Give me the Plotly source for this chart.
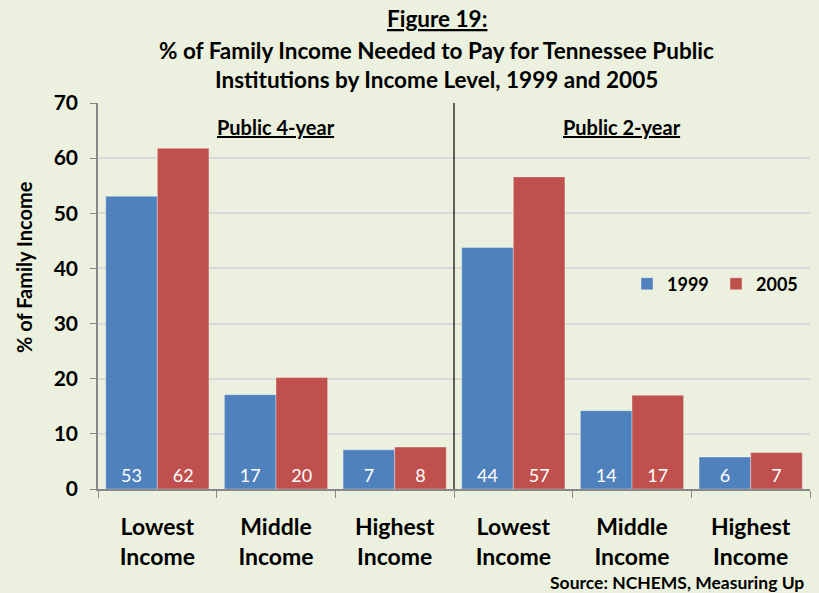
import plotly.graph_objects as go

categories = ["4y_low", "4y_mid", "4y_high", "2y_low", "2y_mid", "2y_high"]
tick_labels = ["Lowest<br>Income", "Middle<br>Income", "Highest<br>Income",
               "Lowest<br>Income", "Middle<br>Income", "Highest<br>Income"]
values_1999 = [53.1, 17.1, 7.1, 43.8, 14.2, 5.8]
values_2005 = [61.8, 20.2, 7.6, 56.6, 17.0, 6.6]
series_names = ["1999", "2005"]
section_labels = ["Public 4-year", "Public 2-year"]

BG = "#EBF1DE"
FONT = "Lato"

fig = go.Figure()
for name, vals, col in [(series_names[0], values_1999, "#4F81BD"),
                        (series_names[1], values_2005, "#C0504D")]:
    fig.add_trace(go.Bar(
        x=categories, y=vals, name=name,
        marker=dict(color=col, line=dict(color="rgba(255,255,255,0.35)", width=1)),
        text=[f"{round(v + 1e-9):d}" for v in vals],
        textposition="inside", insidetextanchor="start",
        textfont=dict(family=FONT, size=18, color="white"),
        textangle=0,
    ))

fig.update_layout(
    width=819, height=593,
    paper_bgcolor=BG, plot_bgcolor=BG,
    margin=dict(l=98, r=9, t=103, b=104),
    barmode="group", bargap=0.13, bargroupgap=0,
    font=dict(family=FONT, color="black"),
    showlegend=True,
    legend=dict(orientation="h", x=0.743, y=0.531, xanchor="left", yanchor="middle",
                bgcolor="rgba(0,0,0,0)", itemwidth=30, entrywidth=44,
                font=dict(family=FONT, size=18, color="black", weight="bold")),
)

fig.update_xaxes(
    type="category", tickmode="array", tickvals=categories, ticktext=tick_labels,
    tickson="boundaries", ticks="outside", ticklen=7, tickcolor="#888888",
    showline=True, linecolor="#888888", linewidth=1.5,
    tickfont=dict(family=FONT, size=23, weight="bold", color="black"),
    ticklabelstandoff=17,
    showgrid=False, range=[-0.5, 5.5],
)
fig.update_yaxes(
    range=[0, 70], dtick=10, tick0=0,
    ticks="outside", ticklen=6, tickcolor="#888888",
    showline=True, linecolor="#888888", linewidth=1.5,
    gridcolor="#D9D9D9", gridwidth=1.5,
    tickfont=dict(family=FONT, size=21, weight="bold", color="black"),
    ticklabelstandoff=8, zeroline=False,
)

# divider between the two institution types
fig.add_shape(type="line", xref="x", yref="paper", x0=2.5, x1=2.5, y0=0, y1=1,
              line=dict(color="black", width=1.2))

annots = [
    dict(text="<b><u>Figure 19:</u></b>", y=1.220),
    dict(text="<b>% of Family Income Needed to Pay for Tennessee Public</b>", y=1.137),
    dict(text="<b>Institutions by Income Level, 1999 and 2005</b>", y=1.060),
]
for a in annots:
    fig.add_annotation(text=a["text"], xref="paper", yref="paper", x=0.476, y=a["y"],
                       xanchor="center", yanchor="middle", showarrow=False,
                       font=dict(family=FONT, size=22.5, color="black"))

fig.add_annotation(text=f"<b><u>{section_labels[0]}</u></b>", xref="x", yref="paper",
                   x=1, y=0.937, showarrow=False, xanchor="center", yanchor="middle",
                   font=dict(family=FONT, size=20, color="black"))
fig.add_annotation(text=f"<b><u>{section_labels[1]}</u></b>", xref="paper", yref="paper",
                   x=(622 - 98) / 712, y=0.937, showarrow=False, xanchor="center", yanchor="middle",
                   font=dict(family=FONT, size=20, color="black"))

fig.add_annotation(text="<b>% of Family Income</b>", xref="paper", yref="paper",
                   x=(24 - 98) / 712, y=(489 - 267) / 386, textangle=-90, showarrow=False,
                   xanchor="center", yanchor="middle",
                   font=dict(family=FONT, size=20, color="black"))

fig.add_annotation(text="<b>Source: NCHEMS, Measuring Up</b>", xref="paper", yref="paper",
                   x=(806 - 98) / 712, y=(489 - 582) / 386, xanchor="right", yanchor="middle",
                   showarrow=False,
                   font=dict(family=FONT, size=17.5, color="black"))

fig.write_html("out.html", config={"displayModeBar": False},
               post_script="document.body.style.margin='0';document.body.style.overflow='hidden';")
